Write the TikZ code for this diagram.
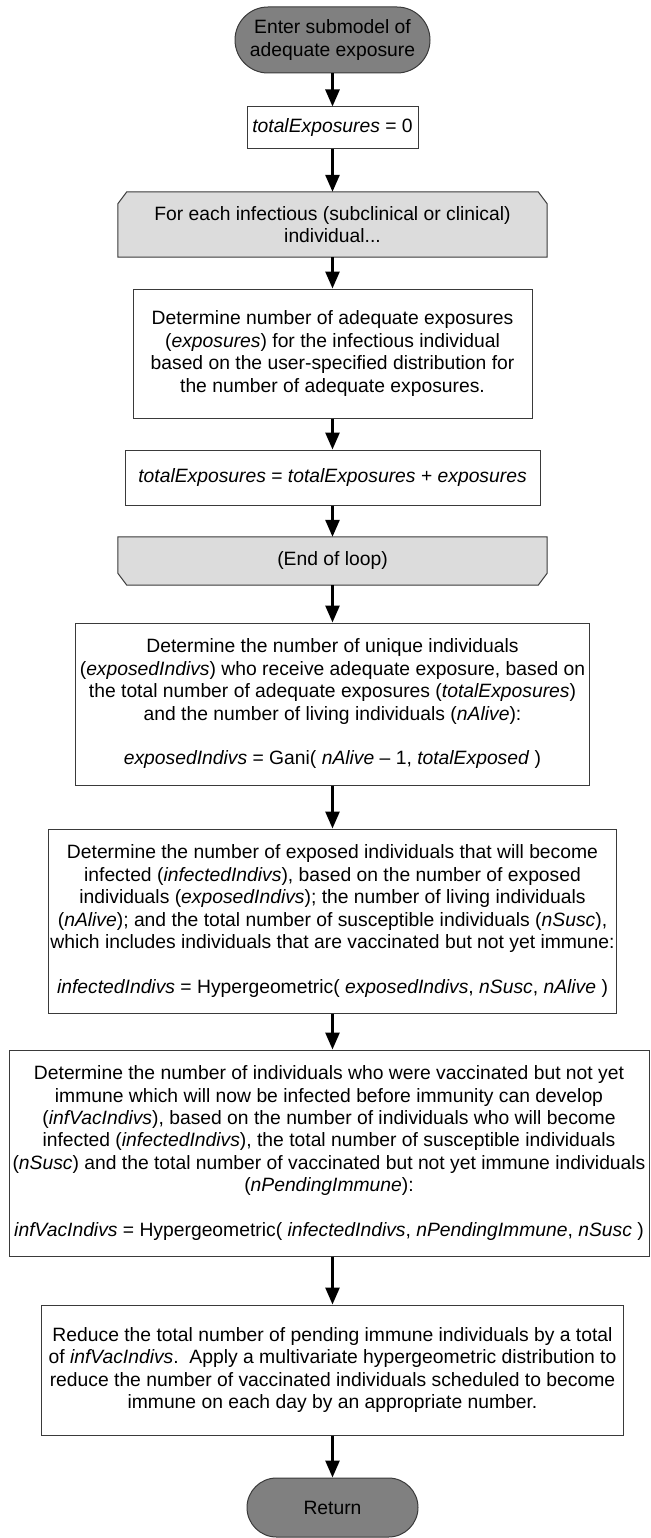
\documentclass[tikz,border=0pt]{standalone}
\usepackage{fontspec}
\setmainfont{Liberation Sans}
\usetikzlibrary{arrows.meta,backgrounds,calc}

\definecolor{edgegray}{HTML}{3A3A3A}
\definecolor{termfill}{HTML}{808080}
\definecolor{loopfill}{HTML}{DCDCDC}

\begin{document}
\begin{tikzpicture}[x=1pt,y=-1pt,
  every node/.style={font=\fontsize{19.3}{22.4}\selectfont, align=center, inner sep=0pt},
  proc/.style={draw=edgegray, line width=1pt, fill=white, rectangle},
  term/.style={draw=edgegray, line width=1pt, fill=termfill, rectangle},
  loopbox/.style={rectangle},
  loopshape/.style={draw=edgegray, line width=1pt, fill=loopfill},
  flow/.style={-{Triangle[length=17pt,width=14pt]}, line width=2.7pt, black}
]
\useasboundingbox (0,0) rectangle (650,1538);

% start terminal
\node[term, minimum width=195pt, minimum height=66pt, rounded corners=33pt] (start) at (332.5,40)
  {Enter submodel of\\adequate exposure};

% initialisation
\node[proc, minimum width=171pt, minimum height=42pt] (init) at (332.5,128)
  {\textit{totalExposures} = 0};

% loop header
\node[loopbox, minimum width=429pt, minimum height=65pt] (loopA) at (332.5,224.5)
  {For each infectious (subclinical or clinical)\\individual...};

% exposures per individual
\node[proc, minimum width=399pt, minimum height=129pt] (detexp) at (332.5,353.5)
  {Determine number of adequate exposures\\
   (\textit{exposures}) for the infectious individual\\
   based on the user-specified distribution for\\
   the number of adequate exposures.};

% accumulate
\node[proc, minimum width=415pt, minimum height=55pt] (accum) at (332.5,477.5)
  {\textit{totalExposures} = \textit{totalExposures} + \textit{exposures}};

% loop end
\node[loopbox, minimum width=429pt, minimum height=48pt] (loopB) at (332.5,561)
  {(End of loop)};

% unique exposed individuals
\node[proc, minimum width=514pt, minimum height=162pt] (gani) at (332.5,704)
  {Determine the number of unique individuals\\
   (\textit{exposedIndivs}) who receive adequate exposure, based on\\
   the total number of adequate exposures (\textit{totalExposures})\\
   and the number of living individuals (\textit{nAlive}):\\[22.4pt]
   \textit{exposedIndivs} = Gani( \textit{nAlive} – 1, \textit{totalExposed} )};

% infected individuals
\node[proc, minimum width=568pt, minimum height=184pt] (infect) at (332.5,921)
  {Determine the number of exposed individuals that will become\\
   infected (\textit{infectedIndivs}), based on the number of exposed\\
   individuals (\textit{exposedIndivs}); the number of living individuals\\
   (\textit{nAlive}); and the total number of susceptible individuals (\textit{nSusc}),\\
   which includes individuals that are vaccinated but not yet immune:\\[22.4pt]
   \textit{infectedIndivs} = Hypergeometric( \textit{exposedIndivs}, \textit{nSusc}, \textit{nAlive} )};

% infected among pending immune
\node[proc, minimum width=640pt, minimum height=206pt] (infvac) at (329,1153)
  {Determine the number of individuals who were vaccinated but not yet\\
   immune which will now be infected before immunity can develop\\
   (\textit{infVacIndivs}), based on the number of individuals who will become\\
   infected (\textit{infectedIndivs}), the total number of susceptible individuals\\
   (\textit{nSusc}) and the total number of vaccinated but not yet immune individuals\\
   (\textit{nPendingImmune}):\\[22.4pt]
   \textit{infVacIndivs} = Hypergeometric( \textit{infectedIndivs}, \textit{nPendingImmune}, \textit{nSusc} )};

% reduce pending immune
\node[proc, minimum width=582pt, minimum height=130pt] (reduce) at (332.5,1370)
  {Reduce the total number of pending immune individuals by a total\\
   of \textit{infVacIndivs}.\ \ Apply a multivariate hypergeometric distribution to\\
   reduce the number of vaccinated individuals scheduled to become\\
   immune on each day by an appropriate number.};

% return terminal
\node[term, minimum width=171pt, minimum height=59pt, rounded corners=29.5pt] (ret) at (332.5,1507.5)
  {Return};

% loop outlines with chamfered corners
\begin{scope}[on background layer]
  \path[loopshape] (loopA.south west) -- ($(loopA.north west)+(0,12)$)
    -- ($(loopA.north west)+(9,0)$) -- ($(loopA.north east)+(-9,0)$)
    -- ($(loopA.north east)+(0,12)$) -- (loopA.south east) -- cycle;
  \path[loopshape] (loopB.north west) -- ($(loopB.south west)+(0,-12)$)
    -- ($(loopB.south west)+(9,0)$) -- ($(loopB.south east)+(-9,0)$)
    -- ($(loopB.south east)+(0,-12)$) -- (loopB.north east) -- cycle;
\end{scope}

% connectors
\draw[flow] (start.south) -- (init.north);
\draw[flow] (init.south) -- (loopA.north);
\draw[flow] (loopA.south) -- (detexp.north);
\draw[flow] (detexp.south) -- (accum.north);
\draw[flow] (accum.south) -- (loopB.north);
\draw[flow] (loopB.south) -- (gani.north);
\draw[flow] (gani.south) -- (infect.north);
\draw[flow] (infect.south) -- (infect.south |- infvac.north);
\draw[flow] (infect.south |- infvac.south) -- (reduce.north);
\draw[flow] (reduce.south) -- (ret.north);
\end{tikzpicture}
\end{document}
